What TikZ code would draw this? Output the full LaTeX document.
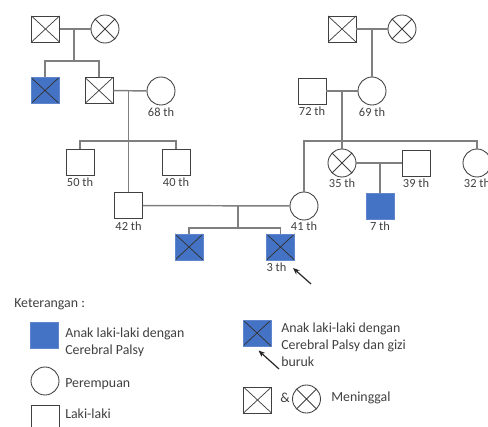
\documentclass[tikz,border=0pt]{standalone}
\usepackage{fontspec}
\setmainfont{Carlito}
\usetikzlibrary{positioning,arrows.meta}
\definecolor{cpblue}{HTML}{4472C4}
\definecolor{lingray}{HTML}{7F7F7F}
\definecolor{txtgray}{HTML}{404040}
\newcommand\agefont{\fontsize{9.3}{11}\selectfont}
\newcommand\notefont{\fontsize{10.4}{12.75}\selectfont}
\tikzset{
  male/.style={draw=txtgray, line width=0.65pt, rectangle, minimum width=21pt, minimum height=19.5pt, inner sep=0pt},
  female/.style={draw=txtgray, line width=0.65pt, circle, minimum size=21pt, inner sep=0pt},
  dead/.style={path picture={\draw[#1, line width=0.55pt]
      (path picture bounding box.north west) -- (path picture bounding box.south east)
      (path picture bounding box.north east) -- (path picture bounding box.south west);}},
  dead/.default=txtgray,
  cp/.style={fill=cpblue, draw=cpblue!85!white},
  tie/.style={draw=lingray, line width=1.1pt},
  age/.style={font=\agefont, text=txtgray, inner sep=0pt},
  note/.style={font=\notefont, text=txtgray, inner sep=0pt, align=left, anchor=west},
  ptr/.style={-{Stealth[length=5pt,width=4pt]}, line width=0.9pt, black!85}
}
\begin{document}
\begin{tikzpicture}[x=0.75pt,y=-0.75pt]
  \useasboundingbox (0,0) rectangle (488,427);
  % keluarga ayah
  \node[male,dead] (gf1) at (45.5,29) {};
  \node[female,dead] (gm1) at (105,29) {};
  \node[male,cp,dead=black!80] (uncle) at (45,90.5) {};
  \node[male,dead] (f1) at (99,90.5) {};
  \node[female] (gm2) at (161,91) {};
  \node[age, below=1.5pt of gm2] (a68) {68 th};
  \node[male] (s50) at (80,162) {};
  \node[age, below=2pt of s50] (a50) {50 th};
  \node[male] (s40) at (176,162) {};
  \node[age, below=2pt of s40] (a40) {40 th};
  \node[male] (s42) at (128.5,205.5) {};
  \node[age, below=2pt of s42] (a42) {42 th};
  % keluarga ibu
  \node[male,dead] (gf2) at (342,29) {};
  \node[female,dead] (gm3) at (402,29) {};
  \node[male] (s72) at (312,91) {};
  \node[age, below=2pt of s72] (a72) {72 th};
  \node[female] (c69) at (372,91) {};
  \node[age, below=1.5pt of c69] (a69) {69 th};
  \node[female] (c41) at (304,206) {};
  \node[age, below=1pt of c41] (a41) {41 th};
  \node[female,dead] (c35) at (342,163) {};
  \node[age, below=1pt of c35] (a35) {35 th};
  \node[male] (s39) at (416,163) {};
  \node[age, below=2pt of s39] (a39) {39 th};
  \node[male,cp] (s7) at (380,206) {};
  \node[age, below=2pt of s7] (a7) {7 th};
  \node[female] (c32) at (477,163) {};
  \node[age, below=1pt of c32] (a32) {32 th};
  % anak
  \node[male,cp,dead=black!80] (ch1) at (189,247) {};
  \node[male,cp,dead=black!80] (ch2) at (280.5,247) {};
  \node[age, below=2pt of ch2, xshift=-3pt] (a3) {3 th};

  \coordinate (m1) at (74,29);
  \coordinate (b1) at (74,61);
  \coordinate (m2) at (128.5,90.5);
  \coordinate (b2) at (128.5,141);
  \coordinate (m3) at (372,29);
  \coordinate (m4) at (342,91);
  \coordinate (b4) at (342,141);
  \coordinate (m5) at (238,206);
  \coordinate (b5) at (238,228);
  \coordinate (m6) at (380,163);

  \draw[tie] (gf1) -- (gm1);
  \draw[tie] (m1) -- (b1);
  \draw[tie] (uncle.north) |- (b1) -| (f1.north);
  \draw[tie] (f1) -- (gm2);
  \draw[tie] (m2) -- (s42.north);
  \draw[tie] (s50.north) |- (b2) -| (s40.north);
  \draw[tie] (gf2) -- (gm3);
  \draw[tie] (m3) -- (c69.north);
  \draw[tie] (s72) -- (c69);
  \draw[tie] (m4) -- (c35.north);
  \draw[tie] (c41.north) |- (b4) -| (c32.north);
  \draw[tie] (c35) -- (s39);
  \draw[tie] (m6) -- (s7.north);
  \draw[tie] (s42) -- (c41);
  \draw[tie] (m5) -- (b5);
  \draw[tie] (ch1.north) |- (b5) -| (ch2.north);

  \coordinate (p1) at (311,284);
  \coordinate (p1tip) at (293,268);
  \draw[ptr] (p1) -- (p1tip);

  % keterangan
  \node[note] (ket) at (14,304) {Keterangan :};
  \node[male,cp] (kcp) at (44.5,335.5) {};
  \node[note] (tcp) at (65,342) {Anak laki-laki dengan\\Cerebral Palsy};
  \node[female] (kf) at (45,381) {};
  \node[note] (tf) at (65,384) {Perempuan};
  \node[male] (km) at (45,418) {};
  \node[note] (tm) at (65,414) {Laki-laki};
  \node[male,cp,dead=black!80] (kcpg) at (257,333) {};
  \node[note] (tcpg) at (281,345) {Anak laki-laki dengan\\Cerebral Palsy dan gizi\\buruk};
  \coordinate (p2) at (279,369);
  \coordinate (p2tip) at (258.5,350.5);
  \draw[ptr] (p2) -- (p2tip);
  \node[male,dead] (kd1) at (257.5,400) {};
  \node[note] (amp) at (280,398) {\&};
  \node[female,dead] (kd2) at (306.5,399) {};
  \node[note] (td) at (331,398) {Meninggal};
\end{tikzpicture}
\end{document}
